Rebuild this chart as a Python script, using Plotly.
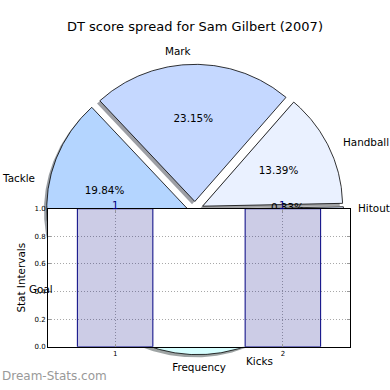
import numpy as np
import plotly.graph_objects as go

chart_title = "DT score spread for Sam Gilbert (2007)"
slice_labels = ["Hitout", "Handball", "Mark", "Tackle", "Goal", "Kicks"]
slice_pcts = [0.33, 13.39, 23.15, 19.84, 3.30, 39.99]
slice_colors = ["#dde8ff", "#eaf1ff", "#c5d8ff", "#b4d5ff", "#c2e4ff", "#d6ffff"]

bar_x = [1, 2]
bar_vals = [1, 1]
bar_text = ["1", "1"]
ytick_vals = [0.0, 0.2, 0.4, 0.6, 0.8, 1.0]
xtick_vals = [1, 2]

FONT = "DejaVu Sans"
explode = 0.06
shadow_off = 0.02

fig = go.Figure()
annotations = []

frac = np.array(slice_pcts) / np.sum(slice_pcts)
edges = np.concatenate([[0.0], np.cumsum(frac)]) * 360.0


def hex_rgb(h):
    h = h.lstrip("#")
    return [int(h[i:i + 2], 16) for i in (0, 2, 4)]


def wedge(i, dx=0.0, dy=0.0):
    a0, a1 = edges[i], edges[i + 1]
    mid = np.radians((a0 + a1) / 2)
    cx = explode * np.cos(mid) + dx
    cy = explode * np.sin(mid) + dy
    n = max(int((a1 - a0) * 2), 3)
    t = np.radians(np.linspace(a0, a1, n))
    xs = np.concatenate([[cx], cx + np.cos(t), [cx]])
    ys = np.concatenate([[cy], cy + np.sin(t), [cy]])
    return xs, ys, cx, cy, mid


# shadows (behind all wedges)
for i in range(len(slice_labels)):
    xs, ys, *_ = wedge(i, -shadow_off, -shadow_off)
    r, g, b = [int(0.3 * c) for c in hex_rgb(slice_colors[i])]
    fig.add_trace(go.Scatter(x=xs, y=ys, mode="lines", fill="toself",
                             fillcolor=f"rgba({r},{g},{b},0.5)",
                             line=dict(width=0), hoverinfo="skip",
                             showlegend=False, xaxis="x", yaxis="y"))

# wedges
for i in range(len(slice_labels)):
    xs, ys, *_ = wedge(i)
    fig.add_trace(go.Scatter(x=xs, y=ys, mode="lines", fill="toself",
                             fillcolor=slice_colors[i],
                             line=dict(color="black", width=0.8),
                             hoverinfo="skip", showlegend=False,
                             xaxis="x", yaxis="y"))

# pie texts: percentages (inside pie layer), labels (on top)
for i in range(len(slice_labels)):
    _, _, cx, cy, mid = wedge(i)
    px = cx + 0.6 * np.cos(mid)
    py = cy + 0.6 * np.sin(mid)
    fig.add_trace(go.Scatter(x=[px], y=[py], mode="text",
                             text=[f"{slice_pcts[i]:.2f}%"],
                             textposition="middle center",
                             textfont=dict(family=FONT, size=10.4, color="black"),
                             hoverinfo="skip", showlegend=False,
                             xaxis="x", yaxis="y"))
    lx = cx + 1.1 * np.cos(mid)
    ly = cy + 1.1 * np.sin(mid)
    annotations.append(dict(text=slice_labels[i], xref="x", yref="y",
                            x=lx, y=ly, showarrow=False,
                            xanchor="left" if lx > 0 else "right",
                            yanchor="middle", borderpad=0,
                            font=dict(family=FONT, size=10.4, color="black")))

# bars
fig.add_trace(go.Bar(x=bar_x, y=bar_vals, width=0.45,
                     marker=dict(color="rgba(0,0,128,0.2)",
                                 line=dict(color="#000080", width=1)),
                     showlegend=False, hoverinfo="skip",
                     xaxis="x2", yaxis="y2"))
for bx, bv, bt in zip(bar_x, bar_vals, bar_text):
    annotations.append(dict(text=bt, xref="x2", yref="y2", x=bx, y=bv,
                            showarrow=False, xanchor="center",
                            yanchor="bottom", yshift=-3, borderpad=0,
                            font=dict(family=FONT, size=10.4, color="#000080")))

annotations.append(dict(text="Dream-Stats.com", xref="paper", yref="paper",
                        x=0, y=10 / 390, xanchor="left", yanchor="middle",
                        showarrow=False,
                        font=dict(family=FONT, size=12, color="#999999")))

W = H = 390
grid_style = dict(showgrid=True, gridcolor="#a8a8a8", griddash="1px,2px",
                  gridwidth=1)
fig.update_layout(
    width=W, height=H,
    margin=dict(l=0, r=0, t=0, b=0),
    paper_bgcolor="white", plot_bgcolor="white",
    font=dict(family=FONT, color="black"),
    title=dict(text=chart_title, x=0.5, xanchor="center",
               y=1 - 26 / H, yanchor="middle",
               font=dict(family=FONT, size=13, color="black")),
    xaxis=dict(domain=[0, 1], range=[-195 / 140, 195 / 140], visible=False,
               fixedrange=True),
    yaxis=dict(domain=[0, 1], range=[-180 / 140, 210 / 140], visible=False,
               fixedrange=True),
    xaxis2=dict(domain=[48 / W, 350 / W], anchor="y2", range=[0.6, 2.4],
                tickvals=xtick_vals, ticktext=[str(v) for v in xtick_vals],
                ticks="inside", ticklen=3, tickcolor="#999999",
                showline=True, linecolor="black", linewidth=1, mirror="ticks",
                zeroline=False, tickfont=dict(size=7, color="black"),
                title=dict(text="Frequency", font=dict(size=10.4), standoff=6),
                fixedrange=True, **grid_style),
    yaxis2=dict(domain=[1 - 350 / H, 1 - 209 / H], anchor="x2", range=[0, 1],
                tickvals=ytick_vals, tickformat=".1f",
                ticks="inside", ticklen=3, tickcolor="#999999",
                showline=True, linecolor="black", linewidth=1, mirror="ticks",
                zeroline=False, tickfont=dict(size=7, color="black"),
                title=dict(text="Stat Intervals", font=dict(size=10.4), standoff=6),
                fixedrange=True, **grid_style),
    annotations=annotations,
)

page_fix = (
    "document.documentElement.style.margin='0';"
    "document.documentElement.style.overflow='hidden';"
    "document.body.style.margin='0';"
    "document.body.style.padding='0';"
    "document.body.style.overflow='hidden';"
)
fig.write_html("out.html", config={"displayModeBar": False},
               post_script=page_fix)
